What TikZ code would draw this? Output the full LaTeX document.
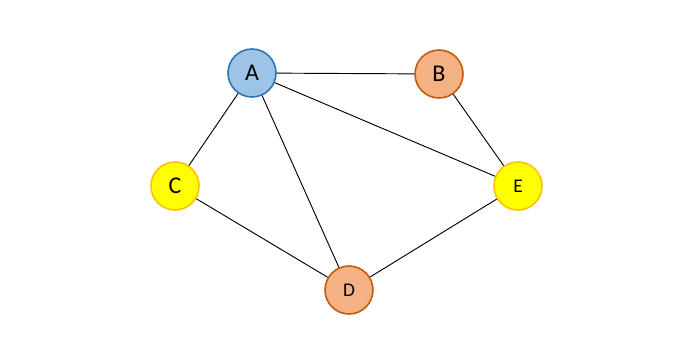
\documentclass[tikz,border=0pt]{standalone}
\usepackage{fontspec}
\setmainfont{Carlito}
\usetikzlibrary{positioning}

\definecolor{nodeblue}{HTML}{9DC3E6}
\definecolor{edgeblue}{HTML}{2E75B6}
\definecolor{nodeorange}{HTML}{F4B183}
\definecolor{edgeorange}{HTML}{C55A11}
\definecolor{nodeyellow}{HTML}{FFFF00}
\definecolor{edgeyellow}{HTML}{FFC000}

\begin{document}
\begin{tikzpicture}[x=0.75pt, y=-0.75pt,
    vertex/.style={circle, draw, line width=1.2pt, minimum size=36pt, inner sep=0pt},
    bigtext/.style={font=\fontsize{18}{21}\selectfont},
    smalltext/.style={font=\fontsize{14.5}{17}\selectfont},
    link/.style={line width=0.7pt, black}]
    \useasboundingbox (0,0) rectangle (699,350);

    % vertices
    \node[vertex, bigtext, fill=nodeblue, draw=edgeblue] (a) at (252,73) {A};
    \node[vertex, bigtext, fill=nodeorange, draw=edgeorange] (b) at (439,74) {B};
    \node[vertex, bigtext, fill=nodeyellow, draw=edgeyellow] (c) at (175,186) {C};
    \node[vertex, smalltext, fill=nodeorange, draw=edgeorange] (d) at (349,290) {D};
    \node[vertex, smalltext, fill=nodeyellow, draw=edgeyellow] (e) at (518,186) {E};

    % edges
    \draw[link] (a) -- (b);
    \draw[link] (a) -- (c);
    \draw[link] (a) -- (d);
    \draw[link] (a) -- (e);
    \draw[link] (b) -- (e);
    \draw[link] (c) -- (d);
    \draw[link] (d) -- (e);
\end{tikzpicture}
\end{document}
